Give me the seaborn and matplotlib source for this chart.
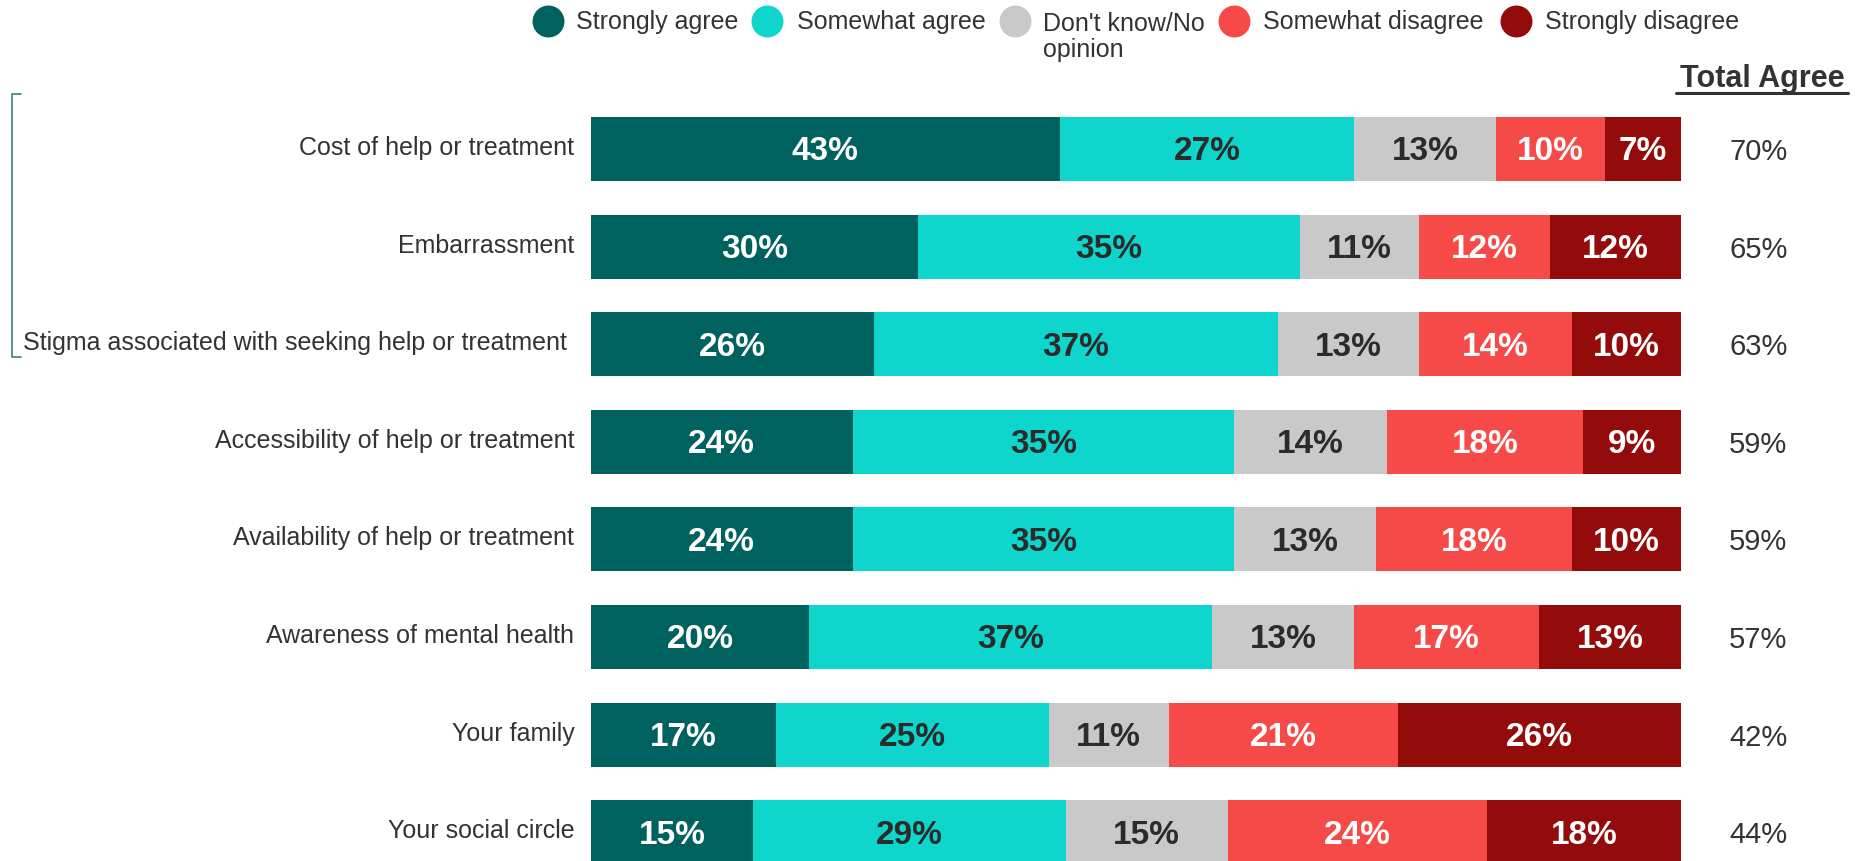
import numpy as np
import pandas as pd
import matplotlib
matplotlib.use("Agg")
import matplotlib.pyplot as plt
import matplotlib.transforms as mtransforms
import seaborn as sns
from matplotlib.lines import Line2D

# ---- data -------------------------------------------------------------
categories = [
    "Cost of help or treatment",
    "Embarrassment",
    "Stigma associated with seeking help or treatment ",
    "Accessibility of help or treatment",
    "Availability of help or treatment",
    "Awareness of mental health",
    "Your family",
    "Your social circle",
]
responses = [
    "Strongly agree",
    "Somewhat agree",
    "Don't know/No\nopinion",
    "Somewhat disagree",
    "Strongly disagree",
]
strongly_agree = [43, 30, 26, 24, 24, 20, 17, 15]
somewhat_agree = [27, 35, 37, 35, 35, 37, 25, 29]
dont_know = [13, 11, 13, 14, 13, 13, 11, 15]
somewhat_disagree = [10, 12, 14, 18, 18, 17, 21, 24]
strongly_disagree = [7, 12, 10, 9, 10, 13, 26, 18]
total_agree = [70, 65, 63, 59, 59, 57, 42, 44]

colors = ["#00625F", "#0ED6CD", "#C9C9C9", "#F64A48", "#940B0B"]
value_text_colors = ["white", "#2B2B2B", "#2B2B2B", "white", "white"]
text_dark = "#333333"

# ---- styling ----------------------------------------------------------
sns.set_theme(style="white")
plt.rcParams["font.family"] = ["Liberation Sans", "DejaVu Sans"]

W, H = 1871, 861
fig = plt.figure(figsize=(W / 100, H / 100), dpi=100)
fig.patch.set_facecolor("white")

# plot area: bars span x 591..1681 px, rows are ~97.6 px apart
x0, x1 = 591, 1681
ax = fig.add_axes([x0 / W, 0, (x1 - x0) / W, 1])

series = np.array([strongly_agree, somewhat_agree, dont_know,
                   somewhat_disagree, strongly_disagree], dtype=float)
shares = series / series.sum(axis=0) * 100
cum = np.cumsum(shares, axis=0)

# stacked bars drawn back-to-front as cumulative totals
for k in range(len(responses) - 1, -1, -1):
    df = pd.DataFrame({"category": categories, "value": cum[k]})
    sns.barplot(data=df, x="value", y="category", orient="h",
                color=colors[k], saturation=1, width=0.655,
                linewidth=0, ax=ax)

# segment value labels
for k in range(len(responses)):
    lefts = cum[k] - shares[k]
    for i in range(len(categories)):
        ax.text(lefts[i] + shares[k][i] / 2, i + 0.03, f"{int(series[k][i])}%",
                ha="center", va="center", fontsize=24, fontweight="bold",
                color=value_text_colors[k])

# total agree column
for i, v in enumerate(total_agree):
    ax.text(107.1, i + 0.03, f"{v}%", ha="center", va="center",
            fontsize=21, color=text_dark, clip_on=False)

row_px = 97.6
first_px = 149
ax.set_xlim(0, 100)
ax.set_ylim((H - first_px) / row_px, -first_px / row_px)
ax.set_yticks(range(len(categories)))
ax.set_yticklabels(categories, fontsize=18, color=text_dark)
ax.tick_params(axis="y", length=0, pad=12)
# nudge category labels slightly upward
lift = mtransforms.ScaledTranslation(0, 3.5 / 100, fig.dpi_scale_trans)
for lbl in ax.get_yticklabels():
    lbl.set_transform(lbl.get_transform() + lift)
ax.set_xticks([])
ax.set_xlabel("")
ax.set_ylabel("")
for s in ax.spines.values():
    s.set_visible(False)
ax.set_facecolor("none")

# header above the total column
fig.text(1762 / W, 1 - 87 / H, "Total Agree", ha="center", va="baseline",
         fontsize=22, fontweight="bold", color=text_dark)
fig.add_artist(Line2D([1676 / W, 1848 / W], [1 - 93 / H, 1 - 93 / H],
                      color=text_dark, lw=2.2))

# bracket grouping the first three rows
bx, by0, by1, bt = 11.5, 94, 357, 21
fig.add_artist(Line2D([bt / W, bx / W, bx / W, bt / W],
                      [1 - by0 / H, 1 - by0 / H, 1 - by1 / H, 1 - by1 / H],
                      color="#3C7E88", lw=1.2))

# legend row
marker_x = [548, 767, 1015, 1234, 1516]
text_x = [576, 797, 1043, 1263, 1545]
for mx, tx, lab, c in zip(marker_x, text_x, responses, colors):
    fig.add_artist(Line2D([mx / W], [1 - 21 / H], marker="o", markersize=23,
                          color=c, markeredgewidth=0, linestyle="none"))
    if "\n" in lab:
        # two-line label: top line sits a little lower than the others
        fig.text(tx / W, 1 - 12 / H, lab, ha="left", va="top",
                 fontsize=18, color=text_dark, linespacing=1.08)
    else:
        fig.text(tx / W, 1 - 29 / H, lab, ha="left", va="baseline",
                 fontsize=18, color=text_dark)

fig.savefig("out.png", dpi=100, facecolor="white")
